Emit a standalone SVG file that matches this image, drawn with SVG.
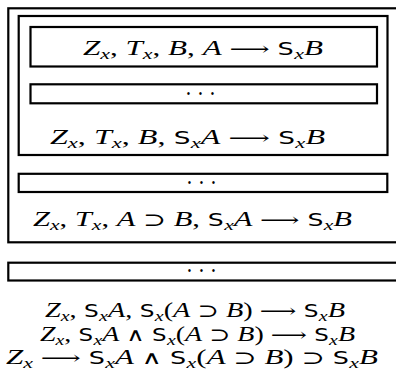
<svg xmlns="http://www.w3.org/2000/svg" width="396" height="388" viewBox="0 0 396 388">
<style>
.b{fill:none;stroke:#000;stroke-width:2.2}
.m{font-family:"Liberation Serif",serif;font-size:20.5px;fill:#000}
.i{font-style:italic}
.s{font-family:"DejaVu Sans Mono",monospace;font-size:18.5px;font-style:normal}
.sub{font-style:italic;font-size:14.5px}
.op{font-family:"DejaVu Serif",serif;font-size:18.5px}
.d{font-family:"Liberation Serif",serif;font-size:25px}
</style>
<rect width="396" height="388" fill="#fff"/>
<g id="outer"><rect class="b" x="8.3" y="8.3" width="400" height="234"/></g>
<g id="middle"><rect class="b" x="18.7" y="16" width="368.8" height="139" stroke-width="2.5"/></g>
<g id="box1">
<rect class="b" x="30.5" y="27" width="346.5" height="39.5"/>
<text class="m" x="83" y="54.5" textLength="240" lengthAdjust="spacingAndGlyphs"><tspan class="i">Z</tspan><tspan class="sub" dy="4">x</tspan><tspan dy="-4">, </tspan><tspan class="i">T</tspan><tspan class="sub" dy="4">x</tspan><tspan dy="-4">, </tspan><tspan class="i">B</tspan>, <tspan class="i">A</tspan> <tspan class="op">⟶</tspan> <tspan class="s">S</tspan><tspan class="sub" dy="4">x</tspan><tspan class="i" dy="-4">B</tspan></text>
</g>
<g id="dots1">
<rect class="b" x="30.5" y="84.3" width="346.5" height="19"/>
<text class="d" x="185" y="101.5" textLength="31" lengthAdjust="spacingAndGlyphs">· · ·</text>
</g>
<g id="line2">
<text class="m" x="50" y="143.5" textLength="275" lengthAdjust="spacingAndGlyphs"><tspan class="i">Z</tspan><tspan class="sub" dy="4">x</tspan><tspan dy="-4">, </tspan><tspan class="i">T</tspan><tspan class="sub" dy="4">x</tspan><tspan dy="-4">, </tspan><tspan class="i">B</tspan>, <tspan class="s">S</tspan><tspan class="sub" dy="4">x</tspan><tspan class="i" dy="-4">A</tspan> <tspan class="op">⟶</tspan> <tspan class="s">S</tspan><tspan class="sub" dy="4">x</tspan><tspan class="i" dy="-4">B</tspan></text>
</g>
<g id="dots2">
<rect class="b" x="18.7" y="173.8" width="368.6" height="18.2"/>
<text class="d" x="186" y="190.5" textLength="31" lengthAdjust="spacingAndGlyphs">· · ·</text>
</g>
<g id="line3">
<text class="m" x="33" y="225.5" textLength="319" lengthAdjust="spacingAndGlyphs"><tspan class="i">Z</tspan><tspan class="sub" dy="4">x</tspan><tspan dy="-4">, </tspan><tspan class="i">T</tspan><tspan class="sub" dy="4">x</tspan><tspan dy="-4">, </tspan><tspan class="i">A</tspan> <tspan class="op">⊃</tspan> <tspan class="i">B</tspan>, <tspan class="s">S</tspan><tspan class="sub" dy="4">x</tspan><tspan class="i" dy="-4">A</tspan> <tspan class="op">⟶</tspan> <tspan class="s">S</tspan><tspan class="sub" dy="4">x</tspan><tspan class="i" dy="-4">B</tspan></text>
</g>
<g id="dots3">
<rect class="b" x="8.3" y="262.7" width="400" height="17.8"/>
<text class="d" x="186" y="279" textLength="31" lengthAdjust="spacingAndGlyphs">· · ·</text>
</g>
<g id="bottom">
<text class="m" x="45" y="317" textLength="300" lengthAdjust="spacingAndGlyphs"><tspan class="i">Z</tspan><tspan class="sub" dy="4">x</tspan><tspan dy="-4">, </tspan><tspan class="s">S</tspan><tspan class="sub" dy="4">x</tspan><tspan class="i" dy="-4">A</tspan>, <tspan class="s">S</tspan><tspan class="sub" dy="4">x</tspan><tspan dy="-4">(</tspan><tspan class="i">A</tspan> <tspan class="op">⊃</tspan> <tspan class="i">B</tspan>) <tspan class="op">⟶</tspan> <tspan class="s">S</tspan><tspan class="sub" dy="4">x</tspan><tspan class="i" dy="-4">B</tspan></text>
<text class="m" x="40" y="340.5" textLength="315" lengthAdjust="spacingAndGlyphs"><tspan class="i">Z</tspan><tspan class="sub" dy="4">x</tspan><tspan dy="-4">, </tspan><tspan class="s">S</tspan><tspan class="sub" dy="4">x</tspan><tspan class="i" dy="-4">A</tspan> <tspan class="op">∧</tspan> <tspan class="s">S</tspan><tspan class="sub" dy="4">x</tspan><tspan dy="-4">(</tspan><tspan class="i">A</tspan> <tspan class="op">⊃</tspan> <tspan class="i">B</tspan>) <tspan class="op">⟶</tspan> <tspan class="s">S</tspan><tspan class="sub" dy="4">x</tspan><tspan class="i" dy="-4">B</tspan></text>
<text class="m" x="6" y="364" textLength="372" lengthAdjust="spacingAndGlyphs"><tspan class="i">Z</tspan><tspan class="sub" dy="4">x</tspan><tspan dy="-4"> </tspan><tspan class="op">⟶</tspan> <tspan class="s">S</tspan><tspan class="sub" dy="4">x</tspan><tspan class="i" dy="-4">A</tspan> <tspan class="op">∧</tspan> <tspan class="s">S</tspan><tspan class="sub" dy="4">x</tspan><tspan dy="-4">(</tspan><tspan class="i">A</tspan> <tspan class="op">⊃</tspan> <tspan class="i">B</tspan>) <tspan class="op">⊃</tspan> <tspan class="s">S</tspan><tspan class="sub" dy="4">x</tspan><tspan class="i" dy="-4">B</tspan></text>
</g>
</svg>
